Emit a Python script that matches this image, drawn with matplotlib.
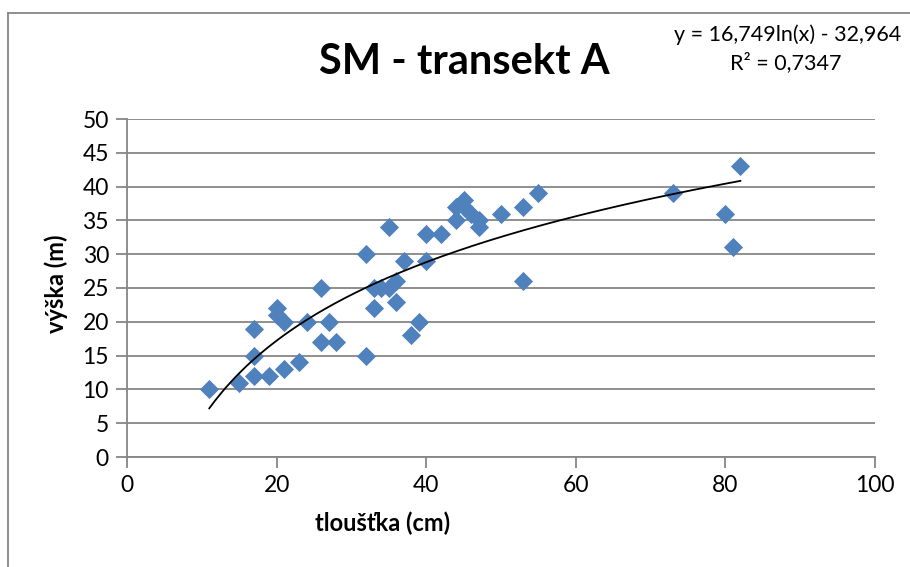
import numpy as np
import matplotlib.pyplot as plt
from matplotlib.lines import Line2D

# tloušťka (cm) a výška (m)
tloustka = [11, 15, 17, 17, 17, 19, 20, 20, 21, 21, 23, 24, 26, 26, 27, 28,
            32, 32, 33, 33, 34, 35, 35, 36, 36, 37, 38, 39, 40, 40, 42,
            44, 44, 45, 45, 46, 47, 47, 50, 53, 53, 55, 73, 80, 81, 82]
vyska = [10, 11, 12, 15, 19, 12, 22, 21, 20, 13, 14, 20, 25, 17, 20, 17,
         30, 15, 25, 22, 25, 34, 25, 26, 23, 29, 18, 20, 33, 29, 33,
         37, 35, 38, 37, 36, 35, 34, 36, 37, 26, 39, 39, 36, 31, 43]

# logaritmický trend z Excelu
koef_a = 16.749
koef_b = -32.964
r2_text = "R² = 0,7347"
rovnice_text = "y = 16,749ln(x) - 32,964"

plt.rcParams['font.family'] = ['Lato', 'DejaVu Sans']

fig = plt.figure(figsize=(9.1, 5.67), dpi=100)
ax = fig.add_axes([127 / 910, 1 - 457 / 567, 748 / 910, 338 / 567])

grey = '#868686'
ax.set_axisbelow(True)
ax.grid(axis='y', color=grey, linewidth=1.3)
ax.scatter(tloustka, vyska, marker='D', s=95, color='#4f81bd', zorder=3,
           linewidths=0)

xt = np.linspace(min(tloustka), max(tloustka), 200)
ax.plot(xt, koef_a * np.log(xt) + koef_b, color='black', linewidth=1.3, zorder=4)

ax.set_xlim(0, 100)
ax.set_ylim(0, 50)
ax.set_xticks(range(0, 101, 20))
ax.set_yticks(range(0, 51, 5))
for s in ['top', 'right']:
    ax.spines[s].set_visible(False)
for s in ['left', 'bottom']:
    ax.spines[s].set_color(grey)
    ax.spines[s].set_linewidth(1.3)
ax.tick_params(colors=grey, labelcolor='black', length=8, width=1.3,
               labelsize=16.5, pad=5)

ax.set_xlabel('tloušťka (cm)', fontsize=17, fontweight='bold', va='center')
ax.xaxis.set_label_coords(0.341, -0.195)
ax.set_ylabel('výška (m)', fontsize=17, fontweight='bold', va='center')
ax.yaxis.set_label_coords(-0.094, 0.512)

fig.text(464 / 910, 1 - 62 / 567, 'SM - transekt A', fontsize=30,
         fontweight='bold', ha='center', va='center')
fig.text(788 / 910, 1 - 35 / 567, rovnice_text, fontsize=15.5,
         ha='center', va='center')
fig.text(786 / 910, 1 - 63 / 567, r2_text, fontsize=15.5,
         ha='center', va='center')

# rámeček grafu
fig.add_artist(Line2D([8 / 910, 8 / 910], [0, 1 - 13 / 567],
                      transform=fig.transFigure, color=grey, linewidth=1.3))
fig.add_artist(Line2D([8 / 910, 1], [1 - 13 / 567, 1 - 13 / 567],
                      transform=fig.transFigure, color=grey, linewidth=1.3))

fig.savefig('out.png', dpi=100)
